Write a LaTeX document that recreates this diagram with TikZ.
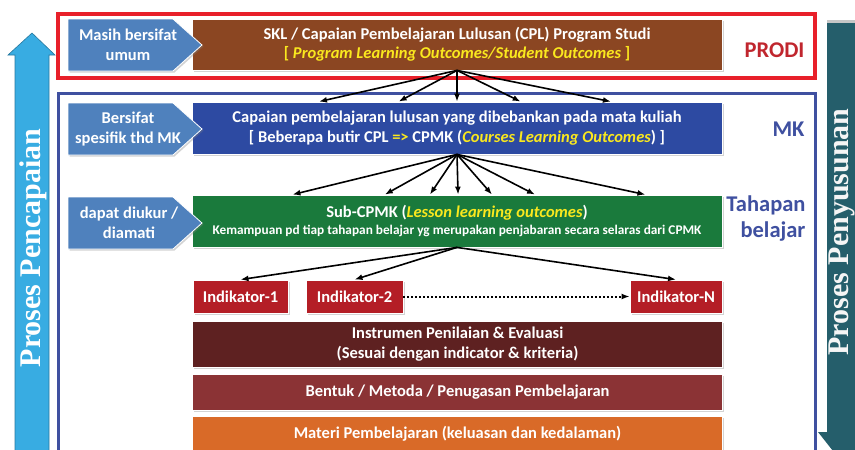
\documentclass[tikz,border=0pt]{standalone}
\usepackage{fontspec}
\setmainfont{Carlito}
\newfontfamily\sideserif{Liberation Serif}
\usetikzlibrary{arrows.meta,calc,shadows}

\definecolor{cplbrown}{RGB}{139,70,34}
\definecolor{mkblue}{RGB}{45,74,162}
\definecolor{subgreen}{RGB}{26,122,60}
\definecolor{indred}{RGB}{180,30,38}
\definecolor{instrred}{RGB}{94,33,33}
\definecolor{bentukred}{RGB}{139,51,53}
\definecolor{materiorange}{RGB}{217,106,40}
\definecolor{tagblue}{RGB}{79,129,189}
\definecolor{txtyellow}{RGB}{250,232,30}
\definecolor{prodired}{RGB}{192,38,46}
\definecolor{framered}{RGB}{232,32,42}
\definecolor{frameblue}{RGB}{63,80,160}
\definecolor{upcyan}{RGB}{56,172,226}
\definecolor{downteal}{RGB}{37,94,107}

% pentagon tag, #1 = vertical centre
\newcommand{\tagshape}[1]{%
  \filldraw[tagfill] (68,{#1-26}) -- (173,{#1-26}) -- (202,#1) -- (173,{#1+26}) -- (68,{#1+26}) -- cycle;}

\tikzset{
  shadowed/.style={drop shadow={opacity=0.35, shadow xshift=1.5pt, shadow yshift=-1.5pt}},
  box/.style={draw=white, line width=0.8pt, text=white, align=center, inner sep=0pt,
    font=\bfseries\fontsize{16.5}{19.5}\selectfont, shadowed},
  wide/.style={box, minimum width=530pt},
  indbox/.style={box, fill=indred, minimum height=33pt},
  tagfill/.style={fill=tagblue, draw=white, line width=0.8pt, shadowed},
  tagtext/.style={text=white, align=center, font=\bfseries\fontsize{16.5}{19.5}\selectfont},
  side/.style={font=\bfseries\fontsize{22.5}{26}\selectfont, align=right, anchor=east},
  arr/.style={-{Latex[length=8pt,width=6pt]}, line width=1.6pt},
}

\begin{document}
\begin{tikzpicture}[x=1pt,y=-1pt]
\clip (0,0) rectangle (855,450);

%PANAH KIRI (naik)
\fill[upcyan, draw=upcyan!70!black, line width=0.6pt]
  (15,460) -- (15,55) -- (8,55) -- (32,33) -- (55,55) -- (49,55) -- (49,460) -- cycle;
\node[rotate=90, text=white, font=\sideserif\bfseries\fontsize{30}{30}\selectfont] (pencapaian) at (33,248) {Proses Pencapaian};

%PANAH KANAN (turun)
\fill[downteal] (827,20) -- (870,20) -- (870,432) -- (880,432) -- (848,470) -- (818,432) -- (827,432) -- cycle;
\fill[gray!45] (827,20) rectangle (860,23);
\node[rotate=90, text=white!92!gray, font=\sideserif\bfseries\fontsize{30}{30}\selectfont] (penyusunan) at (842,232) {Proses Penyusunan};

%BINGKAI PRODI DAN MK
\draw[framered, line width=3.5pt] (58,14) rectangle (815,78);
\draw[frameblue, line width=3pt] (58,93) rectangle (815,470);

\node[side, text=prodired] (prodi) at (808,50) {PRODI};
\node[side, text=frameblue] (mk) at (808,129) {MK};
\node[side, text=frameblue] (tahapan) at (809,219) {Tahapan\\belajar};

%BARIS 1: CPL
\node[wide, fill=cplbrown, minimum height=51pt] (cpl) at (457,44.5)
  {SKL / Capaian Pembelajaran Lulusan (CPL) Program Studi\\
   {\color{txtyellow}{[} {\itshape Program Learning Outcomes/Student Outcomes} ]}};
\tagshape{45}
\node[tagtext] (umum) at (128,45) {Masih bersifat\\umum};

%BARIS 2: CPMK
\node[wide, fill=mkblue, minimum height=52pt] (cpmk) at (457,128)
  {Capaian pembelajaran lulusan yang dibebankan pada mata kuliah\\
   {[} Beberapa butir CPL {\color{txtyellow}=>} CPMK ({\color{txtyellow}\itshape Courses Learning Outcomes}) ]};
\tagshape{129}
\node[tagtext] (spesifik) at (128,129) {Bersifat\\spesifik thd MK};

%BARIS 3: SUB-CPMK
\node[wide, fill=subgreen, minimum height=52pt] (subcpmk) at (457,221)
  {Sub-CPMK ({\color{txtyellow}\itshape Lesson learning outcomes})\\[-2pt]
   {\fontsize{13.3}{15}\selectfont Kemampuan pd tiap tahapan belajar yg merupakan penjabaran secara selaras dari CPMK}};
\tagshape{223}
\node[tagtext] (diukur) at (129,223) {dapat diukur /\\diamati};

%BARIS 4: INDIKATOR
\node[indbox, minimum width=95pt] (ind1) at (240.5,296.5) {Indikator-1};
\node[indbox, minimum width=97pt] (ind2) at (354.5,296.5) {Indikator-2};
\node[indbox, minimum width=92pt] (indn) at (676,296.5) {Indikator-N};

%BARIS 5-7
\node[wide, fill=instrred, minimum height=46pt] (instrumen) at (457.5,344)
  {Instrumen Penilaian \& Evaluasi\\(Sesuai dengan indicator \& kriteria)};
\node[wide, fill=bentukred, minimum height=36pt] (bentuk) at (457.5,392)
  {Bentuk / Metoda / Penugasan Pembelajaran};
\node[wide, fill=materiorange, minimum height=36pt] (materi) at (457.5,434)
  {Materi Pembelajaran (keluasan dan kedalaman)};

%PANAH
\foreach \f in {0.24,0.39,0.5,0.62,0.79}
  \draw[arr] (cpl.south) -- ($(cpmk.north west)!\f!(cpmk.north east)$);
\foreach \f in {0.19,0.364,0.449,0.502,0.566,0.647,0.855}
  \draw[arr] (cpmk.south) -- ($(subcpmk.north west)!\f!(subcpmk.north east)$);
\foreach \n in {ind1,ind2,indn}
  \draw[arr] (subcpmk.south) -- (\n.north);
\draw[arr, line width=2pt, dash pattern=on 2pt off 2pt] (ind2.east) -- (indn.west);

\end{tikzpicture}
\end{document}
